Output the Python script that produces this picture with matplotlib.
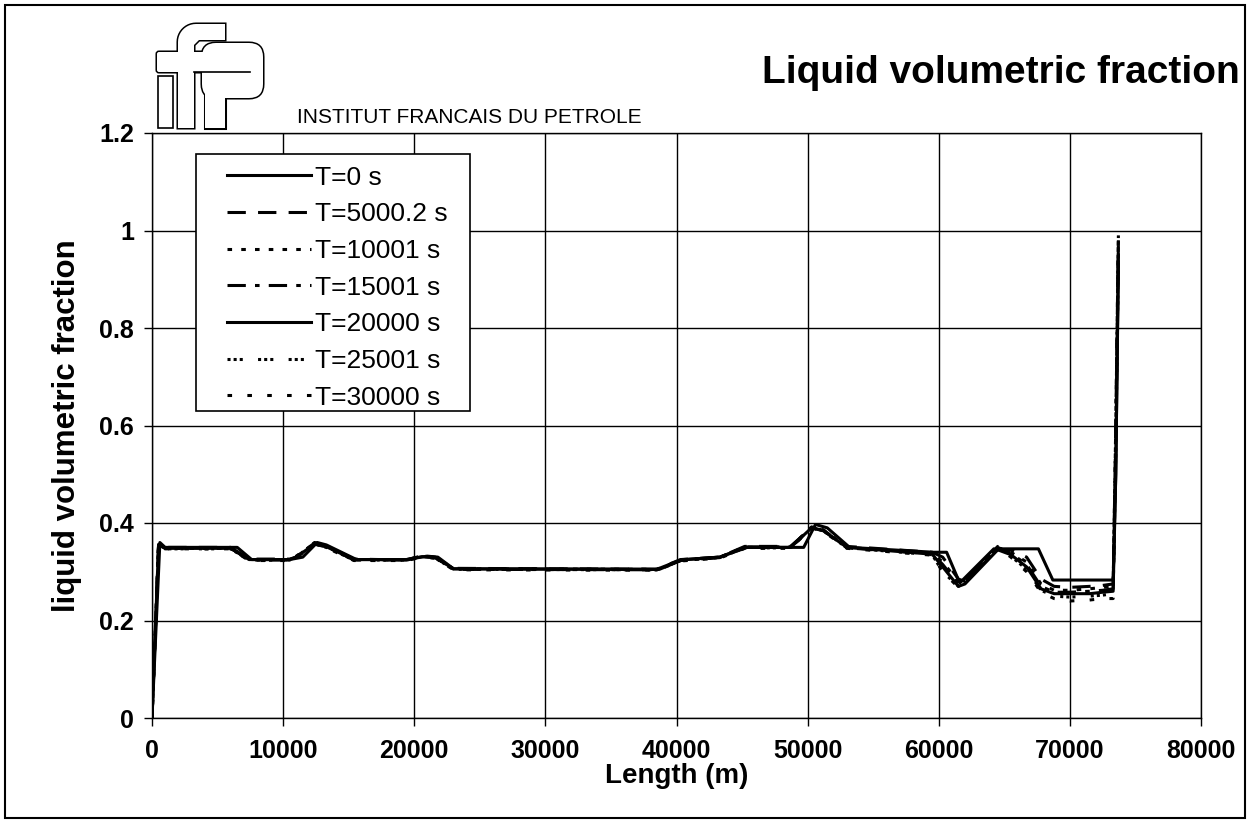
import numpy as np
import matplotlib
matplotlib.use("Agg")
import matplotlib.pyplot as plt
from matplotlib.patches import Rectangle, FancyBboxPatch, PathPatch
from matplotlib.path import Path

plt.rcParams['font.family'] = ['Liberation Sans', 'DejaVu Sans']

# T=0 s has its own grid
x0 = [0, 600, 1000, 6500, 7600, 10500, 11500, 12600, 13300, 15600, 19400, 21000,
      21800, 23000, 38700, 40500, 43300, 45400, 49700, 50600, 51500, 53200, 59600,
      60600, 61600, 64200, 67600, 68700, 73300, 73500, 73700]
y0 = [0, 0.36, 0.35, 0.35, 0.325, 0.325, 0.33, 0.36, 0.355, 0.325, 0.325, 0.332,
      0.33, 0.306, 0.305, 0.325, 0.33, 0.35, 0.35, 0.397, 0.39, 0.35, 0.34,
      0.34, 0.277, 0.347, 0.347, 0.283, 0.283, 0.5, 0.95]

# later times share one grid
xs = [0, 500, 1000, 6000, 7400, 10500, 11000, 12400, 13400, 15400, 19400, 20600,
      21600, 23000, 38500, 40300, 43300, 45200, 48700, 50300, 51200, 53000, 59500,
      60300, 61500, 62000, 64500, 65500, 66700, 67800, 68800, 70000, 71500, 72500,
      73300, 73500, 73700]
y5000 = [0, 0.355, 0.35, 0.35, 0.326, 0.326, 0.33, 0.36, 0.352, 0.326, 0.324, 0.333,
         0.33, 0.307, 0.305, 0.325, 0.33, 0.352, 0.352, 0.39, 0.385, 0.352, 0.34,
         0.33, 0.285, 0.28, 0.345, 0.345, 0.33, 0.285, 0.27, 0.268, 0.27, 0.272,
         0.275, 0.55, 0.97]
y10001 = [0, 0.357, 0.348, 0.348, 0.325, 0.325, 0.332, 0.358, 0.35, 0.325, 0.325, 0.332,
          0.33, 0.306, 0.305, 0.324, 0.33, 0.35, 0.35, 0.392, 0.386, 0.35, 0.338,
          0.32, 0.28, 0.285, 0.348, 0.34, 0.32, 0.275, 0.262, 0.262, 0.265, 0.268,
          0.27, 0.6, 0.99]
y15001 = [0, 0.356, 0.349, 0.349, 0.324, 0.324, 0.331, 0.359, 0.351, 0.324, 0.324, 0.331,
          0.329, 0.305, 0.304, 0.323, 0.329, 0.351, 0.351, 0.391, 0.385, 0.349, 0.337,
          0.315, 0.275, 0.28, 0.35, 0.338, 0.315, 0.27, 0.258, 0.258, 0.26, 0.262,
          0.265, 0.6, 0.99]
y20000 = [0, 0.355, 0.348, 0.348, 0.325, 0.325, 0.33, 0.357, 0.35, 0.325, 0.325, 0.331,
          0.329, 0.306, 0.305, 0.324, 0.33, 0.35, 0.35, 0.39, 0.384, 0.35, 0.336,
          0.31, 0.27, 0.275, 0.345, 0.335, 0.31, 0.265, 0.255, 0.255, 0.255, 0.258,
          0.26, 0.5, 0.93]
y25001 = [0, 0.354, 0.347, 0.347, 0.324, 0.324, 0.33, 0.358, 0.349, 0.324, 0.324, 0.33,
          0.328, 0.305, 0.304, 0.323, 0.329, 0.349, 0.349, 0.391, 0.384, 0.349, 0.335,
          0.3, 0.27, 0.28, 0.352, 0.332, 0.305, 0.262, 0.25, 0.248, 0.25, 0.252,
          0.255, 0.55, 0.96]
y30000 = [0, 0.353, 0.347, 0.347, 0.323, 0.323, 0.329, 0.357, 0.348, 0.323, 0.323, 0.33,
          0.328, 0.304, 0.303, 0.322, 0.328, 0.348, 0.348, 0.39, 0.383, 0.348, 0.334,
          0.3, 0.268, 0.278, 0.35, 0.33, 0.3, 0.258, 0.245, 0.24, 0.242, 0.245,
          0.245, 0.6, 0.98]

labels = ['T=0 s', 'T=5000.2 s', 'T=10001 s', 'T=15001 s', 'T=20000 s', 'T=25001 s', 'T=30000 s']
styles = ['-', (0, (6, 4)), (0, (1.5, 3)), (0, (6, 3, 1.5, 3)), '-',
          (0, (1, 1, 1, 1, 1, 5)), (0, (1.5, 5))]

W, H = 1251, 823
fig = plt.figure(figsize=(W / 100, H / 100), dpi=100)
fig.patches.append(Rectangle((5 / W, 5 / H), 1240 / W, 813 / H, transform=fig.transFigure,
                             fill=False, edgecolor='black', lw=1.5))

ax = fig.add_axes([152 / W, 1 - 718 / H, 1049 / W, 585 / H])
series = [(x0, y0), (xs, y5000), (xs, y10001), (xs, y15001), (xs, y20000), (xs, y25001), (xs, y30000)]
for (xx, yy), lab, ls in zip(series, labels, styles):
    ax.plot(xx, yy, color='black', linestyle=ls, lw=2.2, label=lab)

ax.set_xlim(0, 80000)
ax.set_ylim(0, 1.2)
ax.set_xticks(np.arange(0, 80001, 10000))
ax.set_yticks(np.arange(0, 1.21, 0.2))
ax.set_yticklabels(['0', '0.2', '0.4', '0.6', '0.8', '1', '1.2'])
ax.grid(True, color='black', lw=1)
for s in ax.spines.values():
    s.set_linewidth(1)
ax.tick_params(direction='out', length=6, width=1, labelsize=18)
ax.tick_params(axis='x', pad=9)
ax.tick_params(axis='y', pad=7)
for t in ax.get_xticklabels() + ax.get_yticklabels():
    t.set_fontweight('bold')
ax.set_xlabel('Length (m)', fontsize=20, fontweight='bold', labelpad=0)
ax.set_ylabel('liquid volumetric fraction', fontsize=22.5, fontweight='bold', labelpad=12)

# legend box drawn separately so the padding can match
box = Rectangle((196 / W, 1 - 411 / H), 274 / W, 257 / H, transform=fig.transFigure,
                facecolor='white', edgecolor='black', lw=1.2, zorder=4, clip_on=False)
ax.add_patch(box)
leg = ax.legend(loc='upper left', bbox_to_anchor=(216 / W, 1 - 155 / H),
                bbox_transform=fig.transFigure, frameon=False, fontsize=19,
                handlelength=3.2, handletextpad=0.15, labelspacing=0.48, borderaxespad=0)
leg.set_zorder(5)

fig.text(1240 / W, 1 - 83 / H, 'Liquid volumetric fraction', fontsize=28, fontweight='bold',
         ha='right', va='baseline')
fig.text(297 / W, 1 - 123 / H, 'INSTITUT FRANCAIS DU PETROLE', fontsize=15,
         ha='left', va='baseline')

# ifp logo, drawn in pixel coordinates
lg = fig.add_axes([145 / W, 1 - 132 / H, 125 / W, 132 / H])
lg.set_xlim(145, 270)
lg.set_ylim(132, 0)
lg.axis('off')

ang = np.linspace(np.pi, 1.5 * np.pi, 12)
arc = [(196 + 18 * np.cos(a), 42 + 18 * np.sin(a)) for a in ang]
f_pts = [(178, 128)] + arc + [(225, 24), (225, 40), (199, 40), (194, 45), (194, 128), (178, 128)]


def shapes():
    return [
        PathPatch(Path(f_pts, closed=True)),
        FancyBboxPatch((157, 52), 95, 20, boxstyle='round,pad=0,rounding_size=2'),
        FancyBboxPatch((202, 43), 61, 55, boxstyle='round,pad=0,rounding_size=14'),
        FancyBboxPatch((205, 70), 20, 58, boxstyle='square,pad=0'),
    ]


for p in shapes():
    p.set_facecolor('black'); p.set_edgecolor('black'); p.set_linewidth(2.2)
    lg.add_patch(p)
for p in shapes():
    p.set_facecolor('white'); p.set_edgecolor('none')
    lg.add_patch(p)
lg.add_patch(Rectangle((157.5, 76), 15, 52, facecolor='white', edgecolor='black', lw=1.2))
lg.plot([194, 250], [72, 72], color='black', lw=1.2)

fig.savefig('out.png', dpi=100)
